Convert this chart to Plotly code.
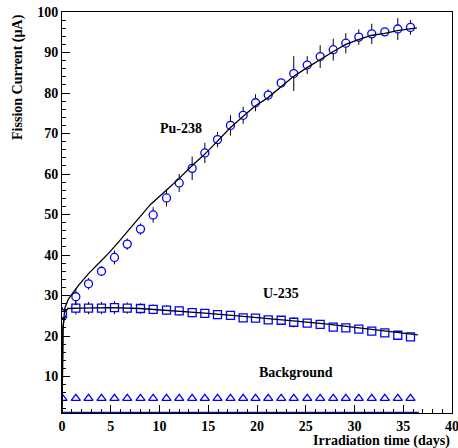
import plotly.graph_objects as go

# ---- data ----
days = [0.05, 1.42, 2.72, 4.05, 5.38, 6.69, 8.05, 9.35, 10.72, 12.02, 13.35, 14.65,
        15.95, 17.28, 18.58, 19.85, 21.15, 22.48, 23.77, 25.15, 26.48, 27.82, 29.11,
        30.44, 31.77, 33.11, 34.44, 35.74]
pu238 = [25.5, 29.7, 32.9, 36.0, 39.4, 42.7, 46.4, 49.9, 54.1, 57.8, 61.4, 65.2,
         68.5, 72.0, 74.5, 77.6, 79.5, 82.5, 84.8, 86.9, 89.0, 90.7, 92.3, 93.8,
         94.6, 95.1, 95.8, 96.2]
pu238_err = [1.5, 2.1, 1.4, 1.2, 1.7, 1.4, 1.4, 1.9, 2.1, 2.2, 2.9, 2.5,
             1.9, 2.5, 2.1, 2.1, 1.4, 0.8, 4.3, 2.2, 2.8, 2.7, 2.5, 1.9,
             2.5, 1.0, 2.7, 1.8]
u235 = [25.5, 26.9, 26.9, 26.9, 27.0, 26.9, 26.8, 26.6, 26.4, 26.2, 25.8, 25.6,
        25.3, 25.1, 24.5, 24.4, 24.0, 23.9, 23.4, 23.2, 22.9, 22.2, 22.0, 21.7,
        21.2, 20.8, 20.2, 19.8]
u235_err = [1.5, 1.6, 1.5, 1.5, 1.6, 1.4, 1.3, 1.2, 1.2, 1.1, 1.2, 1.0,
            1.0, 0.9, 0.9, 0.9, 0.8, 0.9, 1.3, 0.8, 0.8, 0.8, 0.8, 0.8,
            0.8, 0.8, 0.8, 0.8]
background = [4.6] * 28

fit_x_pu = [0.0, 0.02, 0.1, 0.3, 0.67, 1.69, 2.72, 3.74, 4.77, 5.79, 6.82, 7.44, 9.08,
            10.7, 11.97, 13.3, 14.6, 15.9, 17.2, 18.5, 19.8, 21.1, 22.4, 23.7, 25.1,
            26.4, 27.8, 29.1, 30.4, 31.7, 33.1, 34.4, 35.7, 36.4]
fit_pu = [1.0, 14.0, 22.0, 27.0, 29.2, 32.5, 35.4, 37.9, 40.4, 43.2, 46.1, 48.0, 52.5,
          56.0, 58.8, 62.0, 64.8, 68.0, 71.3, 74.1, 76.8, 78.8, 81.3, 84.0, 86.2,
          88.2, 90.2, 92.0, 93.2, 94.2, 94.7, 95.4, 95.9, 96.1]
fit_x_u = [0.0, 0.02, 0.1, 0.3, 0.6, 2.0, 5.0, 8.0, 10.0, 12.0, 15.0, 18.0, 21.0,
           24.0, 27.0, 30.0, 33.0, 36.5]
fit_u = [1.0, 14.0, 22.0, 26.0, 26.8, 26.9, 27.0, 26.8, 26.5, 26.2, 25.6, 25.0, 24.4,
         23.7, 23.0, 22.2, 21.3, 20.3]
fit_x_bg = [0.0, 36.6]
fit_bg = [1.0, 1.0]

x_ticks = [0, 5, 10, 15, 20, 25, 30, 35, 40]
y_ticks = [10, 20, 30, 40, 50, 60, 70, 80, 90, 100]

FONT = "Liberation Serif"
BLUE = "#0000ff"

fig = go.Figure()

fig.add_trace(go.Scatter(x=fit_x_bg, y=fit_bg, mode="lines",
                         line=dict(color="#1010a0", width=2.5), showlegend=False))
fig.add_trace(go.Scatter(x=days, y=background, mode="markers",
                         marker=dict(symbol="triangle-up", size=8, color="white",
                                     line=dict(width=1.3, color=BLUE)),
                         showlegend=False))
fig.add_trace(go.Scatter(x=days, y=u235, mode="markers",
                         error_y=dict(type="data", array=u235_err, color="black",
                                      thickness=1, width=0),
                         marker=dict(symbol="square", size=8, color="white",
                                     line=dict(width=1.3, color=BLUE)),
                         showlegend=False))
fig.add_trace(go.Scatter(x=fit_x_u, y=fit_u, mode="lines",
                         line=dict(color="black", width=1.3), showlegend=False))
fig.add_trace(go.Scatter(x=days, y=pu238, mode="markers",
                         error_y=dict(type="data", array=pu238_err, color="black",
                                      thickness=1, width=0),
                         marker=dict(symbol="circle", size=8, color="white",
                                     line=dict(width=1.3, color=BLUE)),
                         showlegend=False))
fig.add_trace(go.Scatter(x=fit_x_pu, y=fit_pu, mode="lines",
                         line=dict(color="black", width=1.3), showlegend=False))

tickfont = dict(family=FONT, size=14, color="black", weight="bold")
fig.update_xaxes(range=[0, 40], tickvals=x_ticks, ticks="inside", ticklen=8,
                 tickwidth=1, tickcolor="black", showline=True, linecolor="black",
                 linewidth=1, mirror=True, showgrid=False, zeroline=False,
                 tickfont=tickfont, ticklabeloverflow="allow", automargin=False,
                 minor=dict(ticks="inside", ticklen=4, dtick=1, tick0=0,
                            tickcolor="black", showgrid=False))
fig.update_yaxes(range=[1, 100], tickvals=y_ticks, ticks="inside", ticklen=8,
                 tickwidth=1, tickcolor="black", showline=True, linecolor="black",
                 linewidth=1, mirror=True, showgrid=False, zeroline=False,
                 tickfont=tickfont, ticklabeloverflow="allow", automargin=False,
                 minor=dict(ticks="inside", ticklen=4, dtick=2, tick0=0,
                            tickcolor="black", showgrid=False))

ann_font = dict(family=FONT, size=14, color="black")
fig.add_annotation(x=12.2, y=71.3, text="<b>Pu-238</b>", showarrow=False, font=ann_font)
fig.add_annotation(x=22.5, y=30.6, text="<b>U-235</b>", showarrow=False, font=ann_font)
fig.add_annotation(x=24.0, y=11.0, text="<b>Background</b>", showarrow=False, font=ann_font)
fig.add_annotation(xref="paper", yref="paper", x=1.0, y=-0.045, xanchor="right",
                   yanchor="top", text="<b>Irradiation time (days)</b>",
                   showarrow=False, font=ann_font)
fig.add_annotation(xref="paper", yref="paper", x=-0.113, y=1.0, xanchor="center",
                   yanchor="top", textangle=-90, text="<b>Fission Current (µA)</b>",
                   showarrow=False, font=ann_font)

fig.update_layout(width=458, height=448, plot_bgcolor="white", paper_bgcolor="white",
                  margin=dict(l=62, r=6, t=12, b=35, autoexpand=False),
                  font=dict(family=FONT))

fig.write_html("out.html", config={"displayModeBar": False},
               post_script="document.body.style.margin='0px';"
                           "document.body.style.overflow='hidden';")
